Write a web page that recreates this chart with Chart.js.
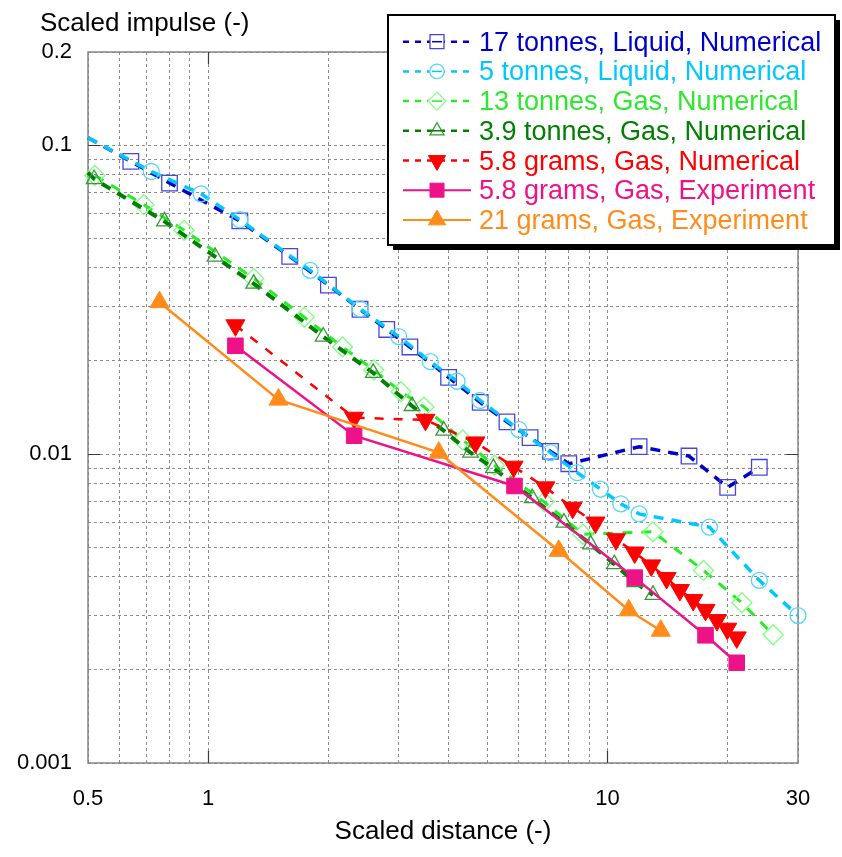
<!DOCTYPE html>
<html>
<head>
<meta charset="utf-8">
<script src="https://cdn.jsdelivr.net/npm/chart.js@4.4.0/dist/chart.umd.min.js"></script>
<style>
  html, body { margin: 0; padding: 0; background: #fff; }
  #wrap { width: 842px; height: 857px; position: relative; }
</style>
</head>
<body>
<div id="wrap"><canvas id="impulseChart"></canvas></div>
<script>
// scaled distance (x) and scaled impulse (y) per case
const liq17Dist = [0.5, 0.64, 0.8, 1.2, 1.6, 2.0, 2.4, 2.8, 3.2, 4.0, 4.8, 5.6, 6.4, 7.2, 8.0, 12, 16, 20, 24];
const liq17Imp  = [0.1056, 0.0885, 0.0753, 0.0568, 0.0436, 0.0352, 0.0294, 0.0253, 0.0222, 0.0177, 0.0147, 0.0127, 0.0113, 0.0102, 0.0093, 0.01056, 0.00985, 0.0078, 0.00906];

const liq5Dist = [0.5, 0.72, 0.96, 1.2, 1.8, 2.4, 3.0, 3.6, 4.2, 4.8, 6.0, 7.2, 8.4, 9.6, 10.8, 12, 18, 24, 30];
const liq5Imp  = [0.1056, 0.0821, 0.0695, 0.0573, 0.0393, 0.0295, 0.0240, 0.0199, 0.0172, 0.0149, 0.0120, 0.0101, 0.0087, 0.0077, 0.0069, 0.0064, 0.0058, 0.0039, 0.0030];

const gas13Dist = [0.52, 0.69, 0.87, 1.3, 1.74, 2.17, 2.6, 3.04, 3.47, 4.34, 5.21, 6.94, 8.68, 13.0, 17.4, 21.7, 26.0];
const gas13Imp  = [0.0797, 0.0641, 0.0530, 0.0370, 0.0277, 0.0222, 0.0187, 0.0159, 0.0142, 0.0111, 0.0092, 0.0070, 0.0055, 0.0056, 0.0042, 0.0033, 0.0026];

const gas39Dist = [0.5, 0.518, 0.777, 1.04, 1.3, 1.94, 2.59, 3.24, 3.89, 4.54, 5.18, 6.48, 7.78, 9.07, 10.4, 11.7, 13.0];
const gas39Imp  = [0.0815, 0.0776, 0.0566, 0.0435, 0.0356, 0.0240, 0.0183, 0.0143, 0.0119, 0.0101, 0.0090, 0.0072, 0.0060, 0.0051, 0.0044, 0.00385, 0.0035];

const num58Dist = [1.17, 2.32, 3.5, 4.67, 5.82, 6.99, 8.18, 9.33, 10.5, 11.7, 12.87, 14.06, 15.18, 16.4, 17.6, 18.8, 19.95, 21.07];
const num58Imp  = [0.0261, 0.0131, 0.0129, 0.0109, 0.0091, 0.0078, 0.0067, 0.0060, 0.0053, 0.0048, 0.00436, 0.00397, 0.00363, 0.00337, 0.00313, 0.0029, 0.00272, 0.00255];

const exp58Dist = [1.17, 2.32, 5.85, 11.7, 17.6, 21.07];
const exp58Imp  = [0.0224, 0.01146, 0.00788, 0.00398, 0.00259, 0.00211];

const exp21Dist = [0.755, 1.5, 3.78, 7.55, 11.3, 13.6];
const exp21Imp  = [0.0310, 0.0150, 0.0101, 0.00486, 0.00312, 0.00268];

// axis ticks: gridline positions and the values that get a label
const xGridValues = [0.5, 0.6, 0.7, 0.8, 0.9, 1, 2, 3, 4, 5, 6, 7, 8, 9, 10, 20, 30];
const xTickLabels = [0.5, 1, 10, 30];
const yGridValues = [0.001, 0.002, 0.003, 0.004, 0.005, 0.006, 0.007, 0.008, 0.009,
                     0.01, 0.02, 0.03, 0.04, 0.05, 0.06, 0.07, 0.08, 0.09, 0.1, 0.2];
const yTickLabels = [0.001, 0.01, 0.1, 0.2];
const xMajor = [1, 10];
const yMajor = [0.01, 0.1];

const FONT = '"Liberation Sans", Arial, sans-serif';

const pts = (xs, ys) => xs.map((x, i) => ({ x: x, y: ys[i] }));

const series = [
  { label: '17 tonnes, Liquid, Numerical', data: pts(liq17Dist, liq17Imp), color: '#0000CC', text: '#0000CC',
    marker: 'rect', r: 11, mColor: '#4646DC', open: true, dash: [10, 8], width: 3.5, leadIn: true },
  { label: '5 tonnes, Liquid, Numerical', data: pts(liq5Dist, liq5Imp), color: '#00C8FF', text: '#00C8FF',
    marker: 'circle', r: 8, mColor: '#55D6FF', open: true, dash: [10, 8], width: 3.5, leadIn: true },
  { label: '13 tonnes, Gas, Numerical', data: pts(gas13Dist, gas13Imp), color: '#22EE22', text: '#2EE82E',
    marker: 'rectRot', r: 10, mColor: '#80FF80', open: true, dash: [10, 9], width: 3 },
  { label: '3.9 tonnes, Gas, Numerical', data: pts(gas39Dist, gas39Imp), color: '#008000', text: '#007F00',
    marker: 'triangle', r: 9, mColor: '#3A963A', open: true, dash: [10, 8], width: 4, leadIn: true },
  { label: '5.8 grams, Gas, Numerical', data: pts(num58Dist, num58Imp), color: '#FF0000', text: '#FF0000',
    marker: 'triangle', rot: 180, r: 11, mColor: '#FF0000', open: false, dash: [9, 10], width: 2.5 },
  { label: '5.8 grams, Gas, Experiment', data: pts(exp58Dist, exp58Imp), color: '#EE1289', text: '#EE1289',
    marker: 'rect', r: 11, mColor: '#EE1289', open: false, dash: [], width: 2.5 },
  { label: '21 grams, Gas, Experiment', data: pts(exp21Dist, exp21Imp), color: '#FF8C1A', text: '#FF8C1A',
    marker: 'triangle', r: 11, mColor: '#FF8C1A', open: false, dash: [], width: 2.5 }
];

const datasets = series.map((s, i) => ({
  label: s.label,
  data: s.data,
  borderColor: s.color,
  borderWidth: s.width,
  borderDash: s.dash,
  tension: 0,
  fill: false,
  clip: false,
  order: series.length - i,
  pointStyle: s.marker,
  rotation: s.rot || 0,
  pointRadius: c => (s.leadIn && c.dataIndex === 0) ? 0 : s.r,
  pointBorderColor: s.mColor,
  pointBackgroundColor: s.open ? 'rgba(0,0,0,0)' : s.mColor,
  pointBorderWidth: s.open ? 1.3 : 1,
  pointHoverRadius: c => (s.leadIn && c.dataIndex === 0) ? 0 : s.r
}));

function drawMarker(ctx, style, x, y, r, rot) {
  ctx.beginPath();
  if (style === 'circle') {
    ctx.arc(x, y, r, 0, Math.PI * 2);
  } else if (style === 'rect') {
    const h = r * Math.SQRT1_2;
    ctx.rect(x - h, y - h, 2 * h, 2 * h);
  } else if (style === 'rectRot') {
    ctx.moveTo(x - r, y); ctx.lineTo(x, y - r); ctx.lineTo(x + r, y); ctx.lineTo(x, y + r); ctx.closePath();
  } else {
    const d = rot ? -1 : 1;
    ctx.moveTo(x, y - d * r);
    ctx.lineTo(x + r * 0.866, y + d * r / 2);
    ctx.lineTo(x - r * 0.866, y + d * r / 2);
    ctx.closePath();
  }
}

// frame with inward decade ticks, drawn under the data
const framePlugin = {
  id: 'frame',
  beforeDatasetsDraw(chart) {
    const { ctx, chartArea: a, scales: { x, y } } = chart;
    ctx.save();
    ctx.strokeStyle = '#858585';
    ctx.lineWidth = 1.5;
    ctx.strokeRect(a.left, a.top, a.right - a.left, a.bottom - a.top);
    ctx.strokeStyle = '#3c3c3c';
    ctx.lineWidth = 1.2;
    ctx.beginPath();
    xMajor.forEach(v => {
      const px = Math.round(x.getPixelForValue(v)) + 0.5;
      ctx.moveTo(px, a.bottom); ctx.lineTo(px, a.bottom - 12);
      ctx.moveTo(px, a.top); ctx.lineTo(px, a.top + 12);
    });
    yMajor.forEach(v => {
      const py = Math.round(y.getPixelForValue(v)) + 0.5;
      ctx.moveTo(a.left, py); ctx.lineTo(a.left + 12, py);
      ctx.moveTo(a.right, py); ctx.lineTo(a.right - 12, py);
    });
    ctx.stroke();
    ctx.restore();
  },
  afterDraw(chart) {
    const ctx = chart.ctx;
    ctx.save();
    // y axis title, horizontal above the plot
    ctx.fillStyle = '#000';
    ctx.font = '26px ' + FONT;
    ctx.textAlign = 'left';
    ctx.textBaseline = 'alphabetic';
    ctx.fillText('Scaled impulse (-)', 40, 31);

    // legend box with drop shadow
    const bx = 388, by = 15, bw = 447, bh = 230;
    ctx.fillStyle = '#000';
    ctx.fillRect(bx + 5, by + 5, bw, bh);
    ctx.fillStyle = '#fff';
    ctx.fillRect(bx, by, bw, bh);
    ctx.strokeStyle = '#000';
    ctx.lineWidth = 2;
    ctx.strokeRect(bx, by, bw, bh);

    series.forEach((s, i) => {
      const cy = 41.7 + i * 29.7;
      ctx.strokeStyle = s.color;
      ctx.lineWidth = s.dash.length ? 2.5 : 2;
      ctx.setLineDash(s.dash.length ? [6, 6] : []);
      ctx.beginPath();
      ctx.moveTo(403, cy);
      ctx.lineTo(471, cy);
      ctx.stroke();
      ctx.setLineDash([]);
      drawMarker(ctx, s.marker, 437, cy, s.r * 0.9, s.rot);
      ctx.fillStyle = s.open ? '#fff' : s.mColor;
      ctx.fill();
      ctx.strokeStyle = s.mColor;
      ctx.lineWidth = s.open ? 1.3 : 1;
      ctx.stroke();
      if (s.open) {
        ctx.strokeStyle = s.color;
        ctx.lineWidth = 1.5;
        ctx.beginPath();
        ctx.moveTo(432, cy); ctx.lineTo(442, cy);
        ctx.stroke();
      }
      ctx.fillStyle = s.text;
      ctx.font = '27px ' + FONT;
      ctx.fillText(s.label, 479, cy + 9);
    });
    ctx.restore();
  }
};

new Chart(document.getElementById('impulseChart'), {
  type: 'line',
  data: { datasets: datasets },
  options: {
    responsive: true,
    maintainAspectRatio: false,
    animation: false,
    events: [],
    layout: { padding: { top: 52, right: 44, left: 0, bottom: 0 } },
    plugins: { legend: { display: false }, tooltip: { enabled: false } },
    scales: {
      x: {
        type: 'logarithmic',
        min: 0.5,
        max: 30,
        afterBuildTicks: s => { s.ticks = xGridValues.map(v => ({ value: v })); },
        afterFit: s => { s.height = 94; },
        ticks: {
          autoSkip: false,
          maxRotation: 0,
          padding: 23,
          color: '#000',
          font: { size: 22, family: FONT },
          callback: v => xTickLabels.includes(v) ? String(v) : ''
        },
        grid: { color: '#8c8c8c', lineWidth: 1, drawTicks: false },
        border: { display: false, dash: [3, 3] },
        title: {
          display: true,
          text: 'Scaled distance (-)',
          color: '#000',
          font: { size: 26, family: FONT },
          padding: { top: 0, bottom: 10 }
        }
      },
      y: {
        type: 'logarithmic',
        min: 0.001,
        max: 0.2,
        afterBuildTicks: s => { s.ticks = yGridValues.map(v => ({ value: v })); },
        afterFit: s => { s.width = 88; },
        ticks: {
          autoSkip: false,
          padding: 16,
          color: '#000',
          font: { size: 22, family: FONT },
          callback: v => yTickLabels.includes(v) ? String(v) : ''
        },
        grid: { color: '#8c8c8c', lineWidth: 1, drawTicks: false },
        border: { display: false, dash: [3, 3] }
      }
    }
  },
  plugins: [framePlugin]
});
</script>
</body>
</html>
